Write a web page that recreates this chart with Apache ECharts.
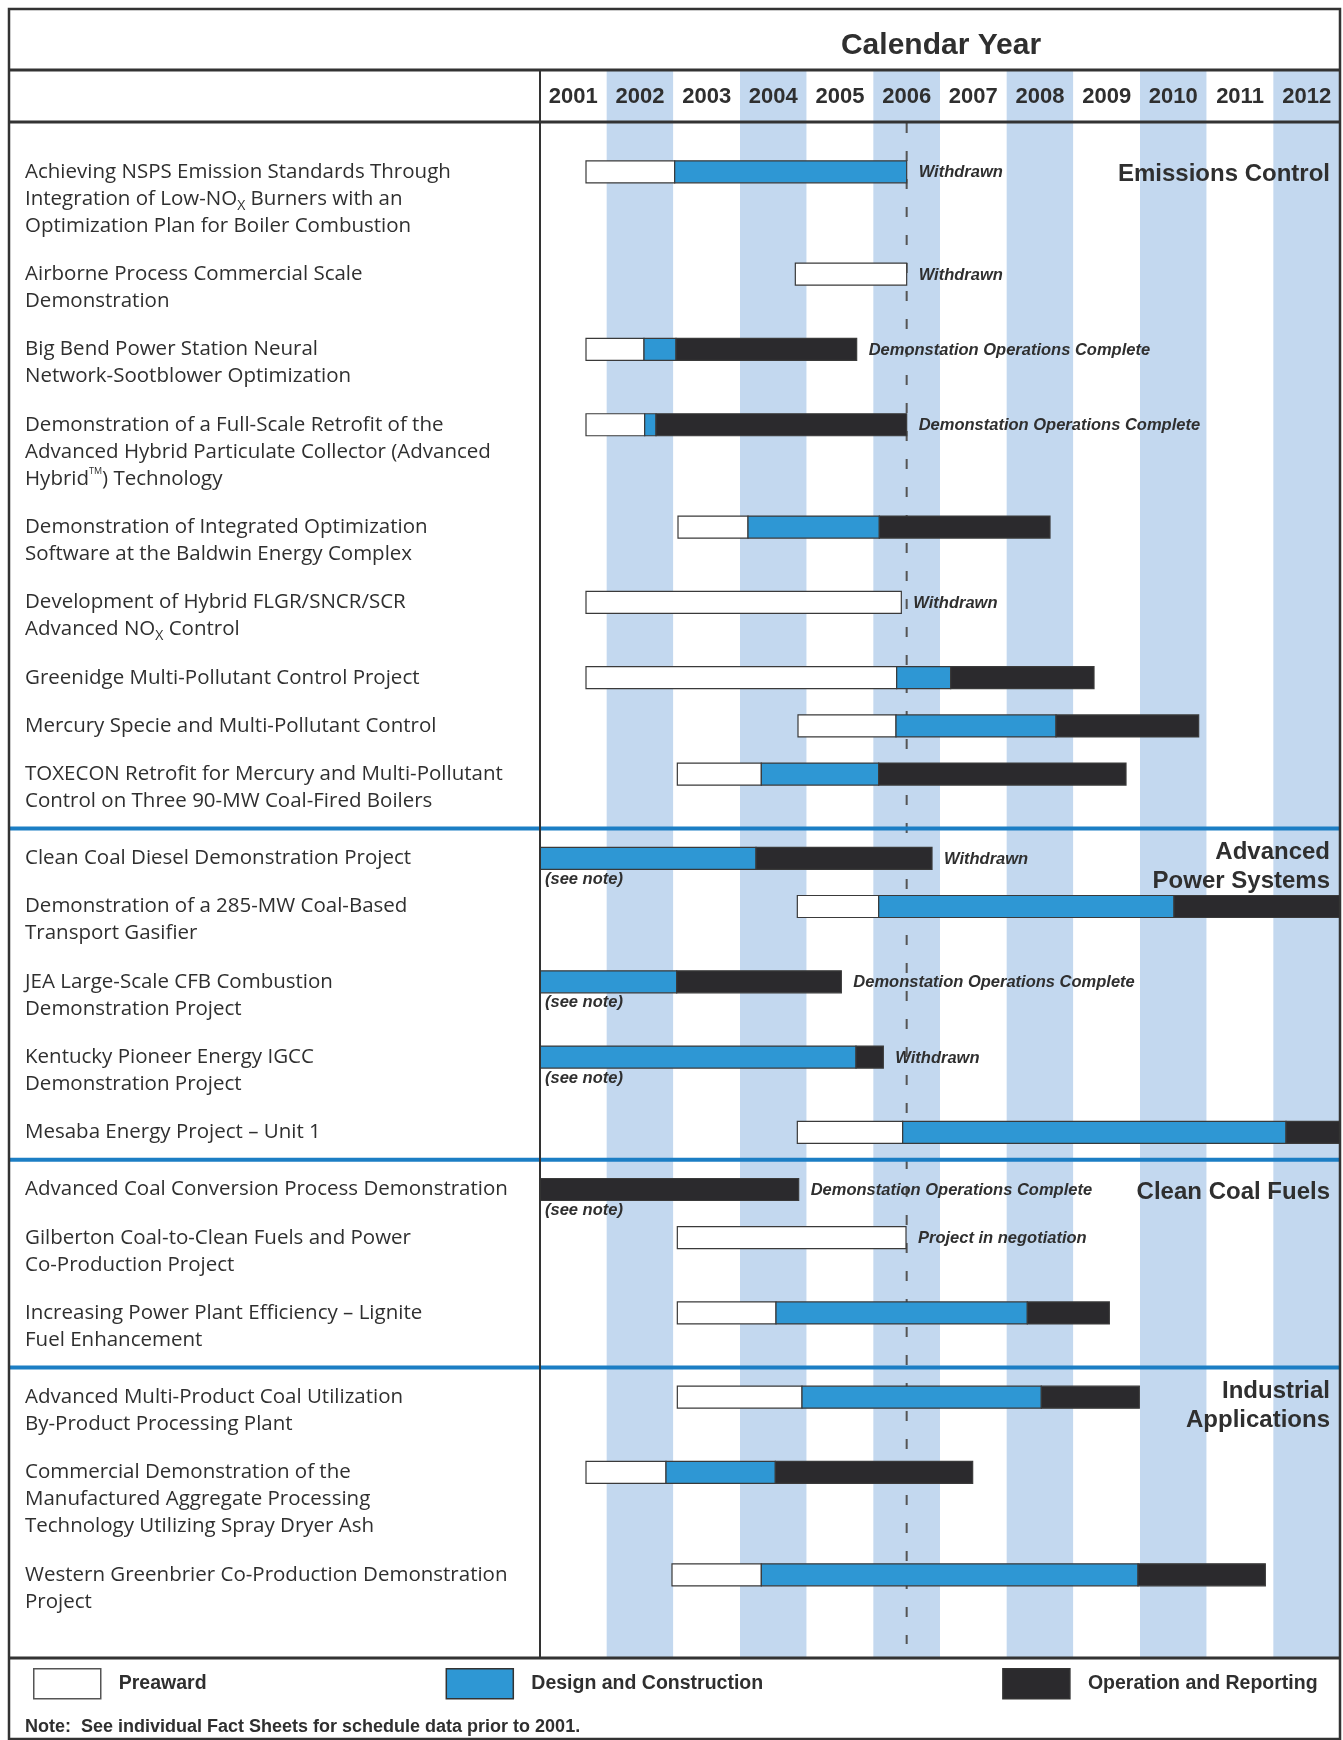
<!DOCTYPE html>
<html>
<head>
<meta charset="utf-8">
<script src="https://cdn.jsdelivr.net/npm/echarts@6/dist/echarts.min.js"></script>
<style>html,body{margin:0;padding:0;background:#fff}#chart{width:1343px;height:1740px}</style>
</head>
<body>
<div id="chart"></div>
<script>
// ---------------- data ----------------
const years = ['2001','2002','2003','2004','2005','2006','2007','2008','2009','2010','2011','2012'];
const yearMin = 2001, yearMax = 2013;
const statusDate = 2006.5;

const projects = [
  'Achieving NSPS Emission Standards Through\nIntegration of Low-NO{sub|X} Burners with an\nOptimization Plan for Boiler Combustion',
  'Airborne Process Commercial Scale\nDemonstration',
  'Big Bend Power Station Neural\nNetwork-Sootblower Optimization',
  'Demonstration of a Full-Scale Retrofit of the\nAdvanced Hybrid Particulate Collector (Advanced\nHybrid{sup|TM}) Technology',
  'Demonstration of Integrated Optimization\nSoftware at the Baldwin Energy Complex',
  'Development of Hybrid FLGR/SNCR/SCR\nAdvanced NO{sub|X} Control',
  'Greenidge Multi-Pollutant Control Project',
  'Mercury Specie and Multi-Pollutant Control',
  'TOXECON Retrofit for Mercury and Multi-Pollutant\nControl on Three 90-MW Coal-Fired Boilers',
  'Clean Coal Diesel Demonstration Project',
  'Demonstration of a 285-MW Coal-Based\nTransport Gasifier',
  'JEA Large-Scale CFB Combustion\nDemonstration Project',
  'Kentucky Pioneer Energy IGCC\nDemonstration Project',
  'Mesaba Energy Project \u2013 Unit 1',
  'Advanced Coal Conversion Process Demonstration',
  'Gilberton Coal-to-Clean Fuels and Power\nCo-Production Project',
  'Increasing Power Plant Efficiency \u2013 Lignite\nFuel Enhancement',
  'Advanced Multi-Product Coal Utilization\nBy-Product Processing Plant',
  'Commercial Demonstration of the\nManufactured Aggregate Processing\nTechnology Utilizing Spray Dryer Ash',
  'Western Greenbrier Co-Production Demonstration\nProject'
];

const preaward = [
  [2001.69, 2003.02], [2004.83, 2006.5], [2001.69, 2002.56], [2001.69, 2002.57], [2003.07, 2004.12],
  [2001.69, 2006.42], [2001.69, 2006.35], [2004.87, 2006.34], [2003.06, 2004.32],
  null, [2004.86, 2006.08], null, null, [2004.86, 2006.44],
  null, [2003.06, 2006.49], [2003.06, 2004.54],
  [2003.06, 2004.93], [2001.69, 2002.89], [2002.98, 2004.32]
];
const design = [
  [2003.02, 2006.5], null, [2002.56, 2003.04], [2002.57, 2002.74], [2004.12, 2006.09],
  null, [2006.35, 2007.16], [2006.34, 2008.74], [2004.32, 2006.08],
  [2001, 2004.24], [2006.08, 2010.51], [2001, 2003.05], [2001, 2005.74], [2006.44, 2012.19],
  null, null, [2004.54, 2008.31],
  [2004.93, 2008.52], [2002.89, 2004.53], [2004.32, 2009.97]
];
const operation = [
  null, null, [2003.04, 2005.75], [2002.74, 2006.5], [2006.09, 2008.65],
  null, [2007.16, 2009.31], [2008.74, 2010.88], [2006.08, 2009.79],
  [2004.24, 2006.88], [2010.51, 2013], [2003.05, 2005.52], [2005.74, 2006.15], [2012.19, 2013],
  [2001, 2004.88], null, [2008.31, 2009.54],
  [2008.52, 2009.99], [2004.53, 2007.49], [2009.97, 2011.88]
];
const statusNotes = [
  'Withdrawn', 'Withdrawn', 'Demonstation Operations Complete', 'Demonstation Operations Complete', '',
  'Withdrawn', '', '', '',
  'Withdrawn', '', 'Demonstation Operations Complete', 'Withdrawn', '',
  'Demonstation Operations Complete', 'Project in negotiation', '',
  '', '', ''
];
const seeNoteRows = [9, 11, 12, 14];
const seeNoteText = '(see note)';

const sectionTitles = ['Emissions Control', 'Advanced\nPower Systems', 'Clean Coal Fuels', 'Industrial\nApplications'];
const sectionStarts = [0, 9, 14, 17];

const legendNames = ['Preaward', 'Design and Construction', 'Operation and Reporting'];
const axisTitle = 'Calendar Year';
const footNote = 'Note:  See individual Fact Sheets for schedule data prior to 2001.';

// ---------------- layout & style ----------------
const FRAME = {l: 9, r: 1340, t: 9, b: 1739};
const TITLE_BOTTOM = 70, HEADER_BOTTOM = 122, CHART_BOTTOM = 1658, DIVIDER_X = 540;
const LINE_PX = 27.08;          // one label text line
const ROW_GAP = 0.78;           // gap between rows (in lines)
const SECTION_GAP = 0.33;       // extra gap at section break (in lines)
const FIRST_ROW_OFFSET = 3.76;  // lines from grid top to first row
const SEP_OFFSET = 1.1;         // separator above first row of section (in lines)
const BAR_H = 22;

const INK = '#2f2f2f';
const C_PRE = '#ffffff', C_DC = '#2e97d4', C_OP = '#2b2a2d';
const C_BAND = '#c3d8ef', C_RULE = '#1c7ec4', C_EDGE = '#3a3a3a';
const BOLD = '"Liberation Sans", Arial, sans-serif';
const BODY = '"Open Sans", "Noto Sans", sans-serif';

// row positions derived from label line counts
const rowPos = [];
let acc = 0;
projects.forEach((p, i) => {
  if (i > 0) {
    acc += projects[i - 1].split('\n').length + ROW_GAP + (sectionStarts.includes(i) ? SECTION_GAP : 0);
  }
  rowPos.push(acc);
});
const yMin = -FIRST_ROW_OFFSET;
const yMax = yMin + (CHART_BOTTOM - TITLE_BOTTOM) / LINE_PX;

function lastEnd(i) {
  return Math.max(...[preaward[i], design[i], operation[i]].filter(Boolean).map(s => s[1]));
}

function phaseSeries(name, arr, fill) {
  const data = [];
  arr.forEach((seg, i) => { if (seg) data.push([seg[0], seg[1], rowPos[i]]); });
  return {
    type: 'custom', name, z: 5, clip: false, silent: true,
    itemStyle: {color: fill, borderColor: C_EDGE, borderWidth: 1.2},
    encode: {x: [0, 1], y: 2},
    data,
    renderItem: (params, api) => {
      const p0 = api.coord([api.value(0), api.value(2)]);
      const p1 = api.coord([api.value(1), api.value(2)]);
      return {
        type: 'rect',
        shape: {x: p0[0], y: p0[1] - BAR_H / 2, width: p1[0] - p0[0], height: BAR_H},
        style: {fill, stroke: C_EDGE, lineWidth: 1.2}
      };
    }
  };
}

const statusSeries = {
  type: 'custom', name: 'status', z: 3, clip: false, silent: true,
  encode: {x: 0},
  data: [[statusDate]],
  renderItem: (params, api) => {
    const x = api.coord([api.value(0), 0])[0];
    return {type: 'line', shape: {x1: x, y1: HEADER_BOTTOM + 1, x2: x, y2: CHART_BOTTOM - 14},
      style: {stroke: '#555', lineWidth: 2, lineDash: [10, 18]}};
  }
};

const labelSeries = {
  type: 'custom', name: 'labels', z: 6, clip: false, silent: true,
  encode: {x: 0, y: 1},
  data: projects.map((p, i) => [yearMin, rowPos[i], i]),
  renderItem: (params, api) => {
    const i = api.value(2);
    const y = api.coord([yearMin, api.value(1)])[1];
    const children = [{
      type: 'text', x: 25, y: y - LINE_PX / 2,
      style: {
        text: projects[i], fill: INK, fontSize: 20.5, fontFamily: BODY,
        lineHeight: LINE_PX, verticalAlign: 'top', align: 'left',
        rich: {
          sub: {fontSize: 14, fontFamily: BODY, fill: INK, lineHeight: 12, padding: [14, 0, 0, 0]},
          sup: {fontSize: 9, fontFamily: BODY, fill: INK, lineHeight: 10, padding: [0, 0, 14, 0]}
        }
      }
    }];
    if (statusNotes[i]) {
      const xe = api.coord([lastEnd(i), 0])[0];
      children.push({type: 'text', x: xe + 12, y: y + 1,
        style: {text: statusNotes[i], fill: INK, fontSize: 16.5, fontWeight: 'bold', fontStyle: 'italic',
          fontFamily: BOLD, verticalAlign: 'middle', align: 'left'}});
    }
    if (seeNoteRows.includes(i)) {
      children.push({type: 'text', x: DIVIDER_X + 5, y: y + 21,
        style: {text: seeNoteText, fill: INK, fontSize: 16.5, fontWeight: 'bold', fontStyle: 'italic',
          fontFamily: BOLD, verticalAlign: 'middle', align: 'left'}});
    }
    return {type: 'group', children};
  }
};

const sectionSeries = {
  type: 'custom', name: 'sections', z: 7, clip: false, silent: true,
  encode: {x: 0, y: 1},
  data: sectionStarts.map((r, k) => [yearMax, rowPos[r], k]),
  renderItem: (params, api) => {
    const k = api.value(2);
    const y = api.coord([yearMax, api.value(1)])[1];
    const ySep = api.coord([yearMax, api.value(1) - SEP_OFFSET])[1];
    const n = sectionTitles[k].split('\n').length;
    const children = [{
      type: 'text', x: 1330, y: y + 3 + (n - 1) * 6,
      style: {text: sectionTitles[k], fill: INK, fontSize: 24, fontWeight: 'bold', fontFamily: BOLD,
        lineHeight: 29, align: 'right', verticalAlign: 'middle'}
    }];
    if (k > 0) {
      children.push({type: 'line', shape: {x1: FRAME.l, y1: ySep, x2: FRAME.r, y2: ySep},
        style: {stroke: C_RULE, lineWidth: 4}});
    }
    return {type: 'group', children};
  }
};

const chart = echarts.init(document.getElementById('chart'), null, {renderer: 'canvas'});
chart.setOption({
  animation: false,
  backgroundColor: '#fff',
  grid: {left: DIVIDER_X, right: 1343 - FRAME.r, top: TITLE_BOTTOM, bottom: 1740 - CHART_BOTTOM,
    containLabel: false, outerBoundsMode: 'none'},
  xAxis: [
    {type: 'value', min: yearMin, max: yearMax, show: false},
    {type: 'category', data: years, position: 'top', boundaryGap: true,
      axisLine: {show: false}, axisTick: {show: false}, splitLine: {show: false},
      axisLabel: {inside: true, margin: 27, interval: 0, verticalAlign: 'middle',
        fontSize: 22, fontWeight: 'bold', fontFamily: BOLD, color: INK},
      splitArea: {show: true, interval: 0, areaStyle: {color: [C_PRE, C_BAND]}}}
  ],
  yAxis: {type: 'value', inverse: true, min: yMin, max: yMax, show: false},
  legend: {
    left: 33, top: 1668, padding: 0, itemWidth: 67, itemHeight: 30, itemGap: 239, icon: 'rect',
    selectedMode: false, orient: 'horizontal',
    textStyle: {fontSize: 19.5, fontWeight: 'bold', fontFamily: BOLD, color: INK, padding: [0, 0, 0, 13]},
    data: [
      {name: legendNames[0], itemStyle: {color: C_PRE, borderColor: '#555', borderWidth: 1.5}},
      {name: legendNames[1], itemStyle: {color: C_DC, borderColor: '#333', borderWidth: 1.5}},
      {name: legendNames[2], itemStyle: {color: C_OP, borderColor: '#333', borderWidth: 1.5}}
    ]
  },
  graphic: [
    {type: 'rect', z: 100, shape: {x: FRAME.l, y: FRAME.t, width: FRAME.r - FRAME.l, height: FRAME.b - FRAME.t},
      style: {fill: null, stroke: '#333', lineWidth: 2.5}},
    {type: 'line', z: 100, shape: {x1: FRAME.l, y1: TITLE_BOTTOM, x2: FRAME.r, y2: TITLE_BOTTOM}, style: {stroke: '#333', lineWidth: 3}},
    {type: 'line', z: 100, shape: {x1: FRAME.l, y1: HEADER_BOTTOM, x2: FRAME.r, y2: HEADER_BOTTOM}, style: {stroke: '#333', lineWidth: 3}},
    {type: 'line', z: 100, shape: {x1: FRAME.l, y1: CHART_BOTTOM, x2: FRAME.r, y2: CHART_BOTTOM}, style: {stroke: '#333', lineWidth: 3}},
    {type: 'line', z: 100, shape: {x1: DIVIDER_X, y1: TITLE_BOTTOM, x2: DIVIDER_X, y2: CHART_BOTTOM}, style: {stroke: '#333', lineWidth: 2}},
    {type: 'text', z: 100, x: 941, y: 46, style: {text: axisTitle, fill: INK, fontSize: 30, fontWeight: 'bold',
      fontFamily: BOLD, align: 'center', verticalAlign: 'middle'}},
    {type: 'text', z: 100, x: 25, y: 1727, style: {text: footNote, fill: INK, fontSize: 18, fontWeight: 'bold',
      fontFamily: BOLD, align: 'left', verticalAlign: 'middle'}}
  ],
  series: [
    statusSeries,
    phaseSeries(legendNames[0], preaward, C_PRE),
    phaseSeries(legendNames[1], design, C_DC),
    phaseSeries(legendNames[2], operation, C_OP),
    labelSeries,
    sectionSeries
  ]
});
</script>
</body>
</html>
